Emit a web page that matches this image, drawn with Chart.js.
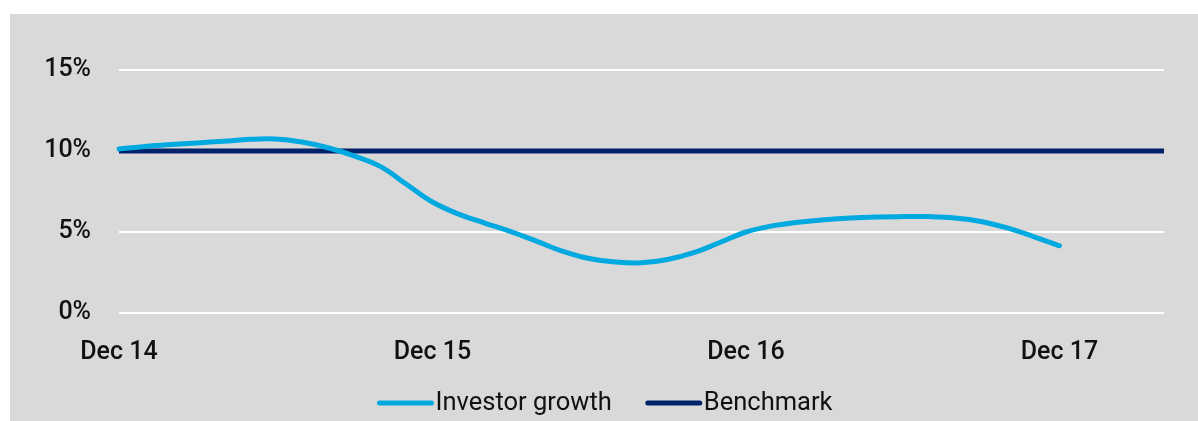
<!DOCTYPE html>
<html>
<head>
<meta charset="utf-8">
<script src="https://cdn.jsdelivr.net/npm/chart.js@4.4.0/dist/chart.umd.min.js"></script>
<style>
    body { margin: 0; background: #ffffff; }
    #caixa { position: absolute; left: 10px; top: 14px; width: 1188px; height: 407px; background: #d9d9d9; }
</style>
</head>
<body>
<div id="caixa"><canvas id="grafico"></canvas></div>
<script>
var meses = ['Dec 14', 'Jan 15', 'Feb 15', 'Mar 15', 'Apr 15', 'May 15', 'Jun 15', 'Jul 15', 'Aug 15', 'Sep 15', 'Oct 15', 'Nov 15',
    'Dec 15', 'Jan 16', 'Feb 16', 'Mar 16', 'Apr 16', 'May 16', 'Jun 16', 'Jul 16', 'Aug 16', 'Sep 16', 'Oct 16', 'Nov 16',
    'Dec 16', 'Jan 17', 'Feb 17', 'Mar 17', 'Apr 17', 'May 17', 'Jun 17', 'Jul 17', 'Aug 17', 'Sep 17', 'Oct 17', 'Nov 17',
    'Dec 17', 'Jan 18', 'Feb 18', 'Mar 18', 'Apr 18'];

var investorGrowth = [10.12, 10.28, 10.4, 10.5, 10.6, 10.72, 10.74, 10.55, 10.2, 9.7, 9.05, 7.95,
    6.85, 6.1, 5.55, 5.02, 4.42, 3.8, 3.36, 3.15, 3.1, 3.3, 3.72, 4.35,
    5.0, 5.38, 5.6, 5.76, 5.87, 5.93, 5.95, 5.95, 5.87, 5.65, 5.25, 4.72,
    4.15];

var benchmark = [10, 10, 10, 10, 10, 10, 10, 10, 10, 10, 10, 10,
    10, 10, 10, 10, 10, 10, 10, 10, 10, 10, 10, 10,
    10, 10, 10, 10, 10, 10, 10, 10, 10, 10, 10, 10,
    10, 10, 10, 10, 10];

var ticksY = [0, 5, 10, 15];

var corInvestor = '#00a9e0';
var corBenchmark = '#00226a';

// legenda desenhada a mao (linha colada no texto)
var legenda = {
    id: 'legenda',
    afterDraw: function (chart) {
        var ctx = chart.ctx;
        ctx.save();
        ctx.font = '400 25.5px Roboto';
        ctx.textBaseline = 'middle';
        var itens = chart.data.datasets;
        var linha = 52, gap = 4, entre = 36;
        var total = 0;
        itens.forEach(function (d, i) {
            total += linha + gap + ctx.measureText(d.label).width;
            if (i > 0) total += entre;
        });
        var x = chart.width / 2 - total / 2 + 2;
        var y = 389;
        itens.forEach(function (d) {
            ctx.strokeStyle = d.borderColor;
            ctx.lineWidth = 5;
            ctx.lineCap = 'round';
            ctx.beginPath();
            ctx.moveTo(x, y);
            ctx.lineTo(x + linha, y);
            ctx.stroke();
            x += linha + gap;
            ctx.fillStyle = '#111111';
            ctx.fillText(d.label, x, y + 1);
            x += ctx.measureText(d.label).width + entre;
        });
        ctx.restore();
    }
};

var graf = document.getElementById('grafico').getContext('2d');

var grafico = new Chart(graf, {
    type: 'line',
    data: {
        labels: meses,
        datasets: [{
            label: 'Investor growth',
            data: investorGrowth,
            borderColor: corInvestor,
            backgroundColor: corInvestor,
            borderWidth: 5,
            pointRadius: 0,
            tension: 0.4,
            borderCapStyle: 'round'
        }, {
            label: 'Benchmark',
            data: benchmark,
            borderColor: corBenchmark,
            backgroundColor: corBenchmark,
            borderWidth: 5,
            pointRadius: 0,
            tension: 0
        }]
    },
    options: {
        responsive: true,
        maintainAspectRatio: false,
        animation: false,
        layout: {
            padding: { left: 0, right: 34, top: 56, bottom: 0 }
        },
        plugins: {
            legend: { display: false },
            tooltip: { enabled: false }
        },
        scales: {
            x: {
                offset: false,
                grid: { display: false, drawTicks: false },
                border: { display: false },
                ticks: {
                    autoSkip: false,
                    maxRotation: 0,
                    padding: 25,
                    color: '#111111',
                    font: { family: 'Roboto', size: 25, weight: '500' },
                    callback: function (val) {
                        var l = this.getLabelForValue(val);
                        return l.indexOf('Dec') === 0 ? l : '';
                    }
                },
                afterFit: function (s) { s.height = 108; }
            },
            y: {
                min: 0,
                max: 15,
                afterBuildTicks: function (s) {
                    s.ticks = ticksY.map(function (v) { return { value: v }; });
                },
                grid: { color: '#ffffff', lineWidth: 2, drawTicks: false },
                border: { display: false },
                ticks: {
                    padding: 28,
                    color: '#111111',
                    font: { family: 'Roboto', size: 25, weight: '500' },
                    callback: function (v) { return v + '%'; }
                },
                afterFit: function (s) { s.width = 109; }
            }
        }
    },
    plugins: [legenda]
});
</script>
</body>
</html>
